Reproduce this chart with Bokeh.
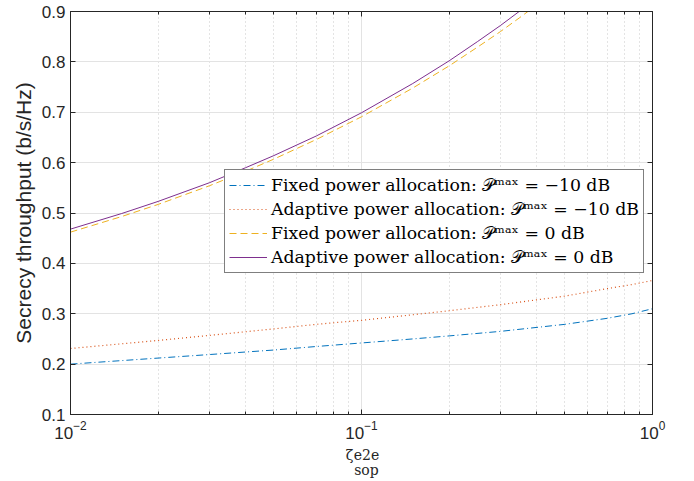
from bokeh.plotting import figure
from bokeh.models import (Range1d, LogAxis, LinearAxis, Legend, LegendItem,
                          FixedTicker, LogTickFormatter, CustomJSTickFormatter)
from bokeh.embed import file_html
from bokeh.resources import INLINE

# ---- data ----
x_low = [0.01, 0.02, 0.03, 0.05, 0.07, 0.1, 0.15, 0.2, 0.3, 0.5, 0.7, 0.85, 1.0]
fixed_m10 = [0.200, 0.212, 0.219, 0.228, 0.235, 0.242, 0.250, 0.256, 0.265, 0.279, 0.291, 0.300, 0.310]
adapt_m10 = [0.231, 0.247, 0.257, 0.270, 0.279, 0.287, 0.298, 0.306, 0.318, 0.335, 0.350, 0.358, 0.366]

x_high = [0.01, 0.015, 0.02, 0.03, 0.04, 0.05, 0.07, 0.1, 0.15, 0.2, 0.25, 0.3, 0.35, 0.4]
adapt_0 = [0.468, 0.499, 0.523, 0.560, 0.590, 0.614, 0.653, 0.699, 0.757, 0.802, 0.840, 0.872, 0.901, 0.927]
fixed_0 = [0.462, 0.493, 0.517, 0.554, 0.583, 0.607, 0.646, 0.691, 0.748, 0.792, 0.829, 0.860, 0.888, 0.913]

labels = [
    "Fixed power allocation: \U0001D4ABᵐᵃˣ = −10 dB",
    "Adaptive power allocation: \U0001D4ABᵐᵃˣ = −10 dB",
    "Fixed power allocation: \U0001D4ABᵐᵃˣ = 0 dB",
    "Adaptive power allocation: \U0001D4ABᵐᵃˣ = 0 dB",
]
y_ticks = [0.1, 0.2, 0.3, 0.4, 0.5, 0.6, 0.7, 0.8, 0.9]
x_ticks = [0.01, 0.1, 1.0]
x_minor = [m * d for d in (0.01, 0.1) for m in range(2, 10)]
xlabel_parts = ["ζ", "e2e\nsop"]          # ζ_sop^e2e
xlabel_anchor = [0.0910, 0.1040]          # label anchors just left / right of 10^-1

TXT = "#262626"
SANS = "Liberation Sans"
SERIF = "DejaVu Serif"

p = figure(width=686, height=480, x_axis_type="log", output_backend="svg",
           toolbar_location=None,
           x_range=Range1d(0.01, 1.0), y_range=Range1d(0.1, 0.9),
           min_border_left=70, min_border_right=34, min_border_top=11, min_border_bottom=66)
p.background_fill_color = "white"
p.border_fill_color = "white"
p.outline_line_color = TXT
p.outline_line_width = 1

# grids
p.ygrid.ticker = FixedTicker(ticks=y_ticks)
p.ygrid.grid_line_color = "#e3e3e3"
p.ygrid.grid_line_width = 1
p.xgrid.ticker = FixedTicker(ticks=x_ticks, minor_ticks=x_minor)
p.xgrid.grid_line_color = "#e3e3e3"
p.xgrid.minor_grid_line_color = "#c8c8c8"
p.xgrid.minor_grid_line_dash = "1 3"
p.xgrid.minor_grid_line_width = 1

blank = CustomJSTickFormatter(code="return ''")

def style_axis(ax, show_labels):
    ax.axis_line_color = TXT
    ax.major_tick_line_color = TXT
    ax.minor_tick_line_color = TXT
    ax.major_tick_in = 5
    ax.major_tick_out = 0
    ax.minor_tick_in = 3
    ax.minor_tick_out = 0
    ax.major_label_text_font = SANS
    ax.major_label_text_color = TXT
    ax.major_label_text_font_size = "17px"
    if not show_labels:
        ax.formatter = blank
        ax.major_label_standoff = 0

xa = p.xaxis[0]
xa.ticker = FixedTicker(ticks=x_ticks, minor_ticks=x_minor)
xa.formatter = LogTickFormatter()
style_axis(xa, True)
xa.major_label_standoff = 6
ya = p.yaxis[0]
ya.ticker = FixedTicker(ticks=y_ticks)
style_axis(ya, True)
ya.minor_tick_line_color = None
ya.major_label_standoff = 5
ya.axis_label = "Secrecy throughput (b/s/Hz)"
ya.axis_label_text_font = SANS
ya.axis_label_text_font_style = "normal"
ya.axis_label_text_font_size = "21px"
ya.axis_label_text_color = TXT
ya.axis_label_standoff = 4

top = LogAxis(ticker=FixedTicker(ticks=x_ticks, minor_ticks=x_minor))
style_axis(top, False)
p.add_layout(top, "above")
right = LinearAxis(ticker=FixedTicker(ticks=y_ticks))
style_axis(right, False)
right.minor_tick_line_color = None
p.add_layout(right, "right")

# x-axis label drawn as tick labels of a bare second bottom axis (not clipped)
lab_axis = LogAxis(ticker=FixedTicker(ticks=xlabel_anchor),
                   formatter=CustomJSTickFormatter(args=dict(parts=xlabel_parts),
                                                   code="return parts[index]"))
lab_axis.axis_line_color = None
lab_axis.major_tick_line_color = None
lab_axis.minor_tick_line_color = None
lab_axis.major_tick_in = 0
lab_axis.major_tick_out = 0
lab_axis.major_label_standoff = 5
lab_axis.major_label_text_font = SERIF
lab_axis.major_label_text_font_size = "14px"
lab_axis.major_label_text_line_height = 0.95
lab_axis.major_label_text_color = TXT
p.add_layout(lab_axis, "below")

r1 = p.line(x_low, fixed_m10, line_color="#0072BD", line_width=1, line_dash="7 3 1 3")
r2 = p.line(x_low, adapt_m10, line_color="#D95319", line_width=1.2, line_dash="1 3")
r3 = p.line(x_high, fixed_0, line_color="#EDB120", line_width=1, line_dash="7 4")
r4 = p.line(x_high, adapt_0, line_color="#7E2F8E", line_width=1)

legend = Legend(items=[LegendItem(label=labels[i], renderers=[r]) for i, r in enumerate([r1, r2, r3, r4])],
                location=(154, 141), label_text_font=SERIF, label_text_font_size="17.3px",
                label_text_color="black", glyph_width=38, glyph_height=22, label_height=22,
                label_standoff=4, spacing=2, padding=4, margin=0,
                border_line_color="black", border_line_width=1, background_fill_alpha=1)
p.add_layout(legend, "center")

open("out.html", "w").write(file_html(p, INLINE))
